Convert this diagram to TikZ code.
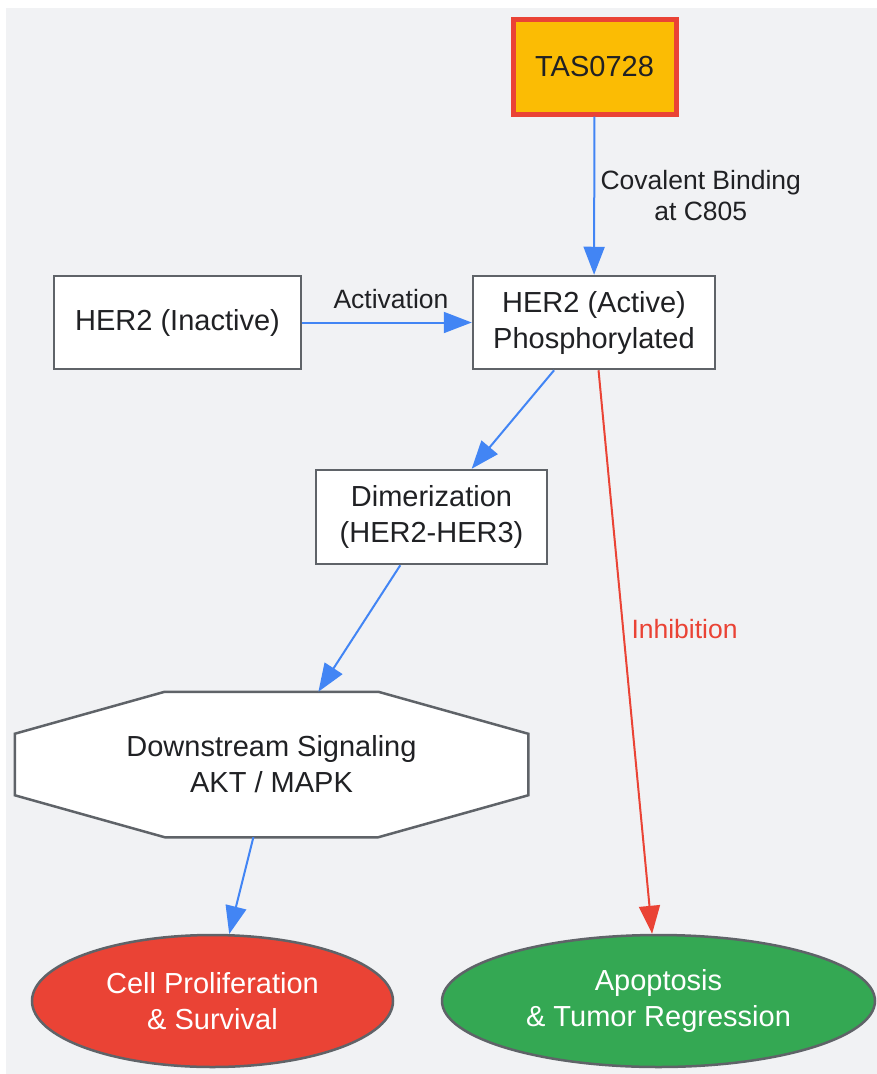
\documentclass[tikz,border=0pt]{standalone}
\usepackage{fontspec}
\setmainfont{Liberation Sans}
\usetikzlibrary{arrows.meta,calc,backgrounds,shapes.geometric}
\definecolor{bgGray}{HTML}{F1F2F4}
\definecolor{edgeGray}{HTML}{5F6368}
\definecolor{txtDark}{HTML}{202124}
\definecolor{gBlue}{HTML}{4285F4}
\definecolor{gRed}{HTML}{EA4335}
\definecolor{gYellow}{HTML}{FBBC04}
\definecolor{gGreen}{HTML}{34A853}
\begin{document}
\begin{tikzpicture}[x=1pt, y=-1pt,
    box/.style={draw=edgeGray, line width=2.5pt, fill=white, text=txtDark, align=center, inner sep=0pt,
        font=\fontsize{29}{36}\selectfont},
    oval/.style={ellipse, draw=edgeGray, line width=2.5pt, text=white, align=center, inner sep=0pt,
        minimum width=361pt, minimum height=132pt, font=\fontsize{29}{36}\selectfont},
    flow/.style={draw=gBlue, line width=2pt, -{Triangle[length=28pt,width=21pt]}},
    block/.style={draw=gRed, line width=2pt, -{Triangle[length=28pt,width=21pt]}},
    lbl/.style={text=txtDark, align=center, font=\fontsize{26.5}{31}\selectfont}]
    \useasboundingbox (0,0) rectangle (877,1074);
    \begin{scope}[on background layer]
        \fill[bgGray] (6,8) rectangle (877,1074);
    \end{scope}
    % nodes
    \node[box, draw=gRed, line width=5pt, fill=gYellow, minimum width=163pt, minimum height=95pt] (tas) at (594.5,66.5) {TAS0728};
    \node[box, minimum width=247pt, minimum height=93pt] (inact) at (177.5,322.5) {HER2 (Inactive)};
    \node[box, minimum width=242pt, minimum height=93pt] (act) at (594,322.5) {HER2 (Active)\\Phosphorylated};
    \node[box, minimum width=231pt, minimum height=94pt] (dimer) at (431.5,517) {Dimerization\\(HER2-HER3)};
    \node[box, draw=none, fill=none, minimum width=511pt, minimum height=143pt] (sig) at (271.5,764.5) {Downstream Signaling\\AKT / MAPK};
    \node[oval, fill=gRed] (cell) at (212.5,1001) {Cell Proliferation\\\& Survival};
    \node[oval, fill=gGreen, minimum width=433pt] (apop) at (658.5,1001) {Apoptosis\\\& Tumor Regression};
    \begin{scope}[on background layer]
        \draw[edgeGray, line width=2.5pt, fill=white] ($(sig.north west)+(150,0)$) -- ($(sig.north east)+(-150,0)$)
            -- ($(sig.north east)+(0,42)$) -- ($(sig.south east)+(0,-42)$) -- ($(sig.south east)+(-150,0)$)
            -- ($(sig.south west)+(150,0)$) -- ($(sig.south west)+(0,-42)$) -- ($(sig.north west)+(0,42)$) -- cycle;
    \end{scope}
    % connectors
    \draw[flow] (tas) -- (act) node[lbl, midway, right, xshift=2pt] (lblcov) {Covalent Binding\\at C805};
    \draw[flow] (inact) -- (act) node[lbl, midway, above, xshift=4pt, yshift=9pt] (lblact) {Activation};
    \draw[flow] (act) -- (dimer);
    \draw[flow] (dimer) -- (sig);
    \draw[flow] (sig) -- (cell);
    \draw[block] (act) -- (apop) node[lbl, text=gRed, pos=0.46, right, xshift=4pt] (lblinh) {Inhibition};
\end{tikzpicture}
\end{document}
